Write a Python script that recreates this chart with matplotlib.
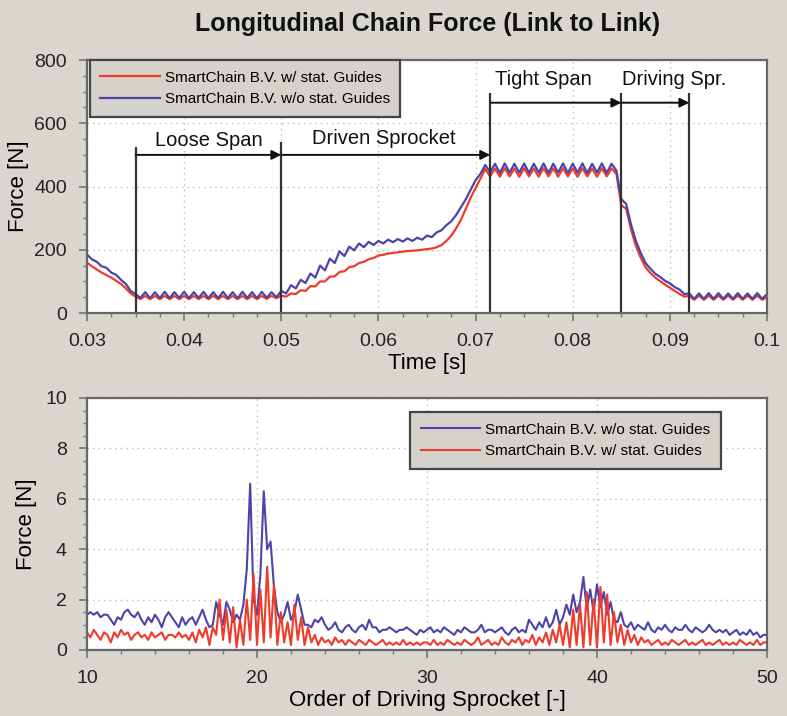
import numpy as np
import matplotlib
matplotlib.use("Agg")
import matplotlib.pyplot as plt
from matplotlib.ticker import MultipleLocator

# --- data ---
# top: chain force vs time, sampled every 0.5 ms from 0.030 s to 0.100 s
t_start, t_end, t_count = 0.030, 0.100, 141
force_wo = [
    185, 170, 162, 148, 143, 128, 121, 105, 92, 70,
    60, 48, 66, 47, 66, 47, 67, 47, 66, 48,
    67, 47, 66, 48, 67, 47, 66, 47, 67, 48,
    66, 47, 67, 48, 66, 47, 67, 48, 66, 50,
    70, 62, 88, 78, 105, 95, 125, 112, 150, 135,
    172, 158, 195, 180, 210, 198, 220, 208, 225, 215,
    228, 220, 232, 224, 234, 226, 236, 228, 238, 232,
    245, 240, 255, 262, 278, 290, 310, 335, 360, 390,
    420, 440, 468, 445, 472, 443, 473, 444, 472, 444,
    473, 443, 472, 444, 473, 443, 472, 444, 473, 443,
    472, 444, 473, 443, 472, 444, 473, 443, 472, 450,
    360, 345, 280, 228, 190, 158, 140, 124, 114, 102,
    94, 82, 74, 60, 62, 45, 62, 45, 63, 45,
    63, 45, 62, 45, 63, 45, 62, 45, 63, 45,
    60,
]
force_w = [
    160, 148, 138, 128, 120, 112, 102, 92, 78, 62,
    52, 44, 54, 44, 54, 44, 54, 44, 54, 44,
    54, 44, 54, 44, 54, 44, 54, 44, 54, 44,
    54, 44, 54, 44, 54, 44, 54, 45, 54, 47,
    55, 52, 62, 60, 72, 70, 85, 84, 100, 100,
    115, 116, 130, 132, 145, 148, 158, 162, 170, 174,
    182, 184, 188, 190, 192, 194, 196, 197, 198, 200,
    202, 204, 208, 215, 228, 245, 268, 295, 330, 365,
    395, 425, 455, 432, 457, 431, 458, 432, 457, 431,
    458, 432, 457, 431, 458, 432, 457, 431, 458, 432,
    457, 431, 458, 432, 457, 431, 458, 432, 457, 440,
    340, 330, 265, 212, 175, 145, 126, 112, 101, 90,
    80, 70, 60, 52, 54, 42, 55, 42, 55, 42,
    55, 42, 55, 42, 55, 42, 55, 42, 55, 42,
    50,
]

# span markers (time, top of line) and span labels
span_t = [0.035, 0.050, 0.0715, 0.085, 0.092]
span_top = [525, 540, 695, 695, 695]
arrows = [(0.035, 0.050, 500), (0.050, 0.0715, 500),
          (0.0715, 0.085, 665), (0.085, 0.092, 665)]
span_names = ["Loose Span", "Driven Sprocket", "Tight Span", "Driving Spr."]
name_pos = [(0.0425, 545), (0.0606, 552), (0.0770, 738), (0.0904, 738)]

# bottom: spectrum vs order of driving sprocket, step 0.2 from 10 to 50
o_start, o_end, o_count = 10, 50, 201
spec_wo = [
    1.4, 1.5, 1.4, 1.5, 1.3, 1.4, 1.4, 1.2, 1.0, 1.3,
    1.2, 1.5, 1.6, 1.4, 1.3, 1.5, 1.2, 1.0, 1.3, 1.1,
    1.4, 1.2, 0.9, 1.3, 1.5, 1.3, 1.1, 0.9, 1.3, 1.0,
    1.2, 1.3, 1.0, 1.3, 1.6, 1.2, 0.9, 1.0, 1.9, 1.4,
    1.0, 1.9, 1.6, 1.1, 1.4, 1.2, 1.8, 3.2, 6.6, 2.0,
    1.4, 3.0, 6.3, 4.0, 4.3, 2.5, 1.5, 1.1, 1.4, 1.9,
    1.2, 1.5, 2.2, 1.6, 1.0, 1.0, 0.9, 1.2, 1.1, 1.3,
    1.0, 0.8, 0.9, 1.1, 0.8, 0.7, 0.9, 1.0, 0.8, 0.7,
    0.9, 1.0, 0.8, 1.2, 0.9, 0.9, 0.7, 0.8, 0.8, 0.9,
    0.8, 0.7, 0.8, 0.8, 0.9, 0.8, 0.7, 0.6, 0.8, 0.7,
    0.8, 0.9, 0.7, 0.8, 0.7, 0.9, 0.8, 0.7, 0.6, 0.8,
    0.7, 0.9, 0.8, 0.7, 0.7, 0.8, 1.0, 0.7, 0.8, 0.8,
    0.7, 0.8, 0.9, 0.7, 0.6, 0.8, 0.9, 0.7, 0.8, 0.7,
    1.2, 1.0, 0.8, 1.1, 0.9, 1.3, 0.9, 1.1, 1.6, 1.0,
    1.3, 1.8, 1.4, 2.2, 1.5, 1.9, 2.9, 1.6, 2.4, 1.5,
    2.6, 1.7, 2.3, 1.4, 1.9, 1.2, 1.1, 1.5, 1.0, 0.9,
    1.1, 0.8, 1.0, 0.9, 0.8, 1.1, 0.8, 0.7, 0.9, 0.8,
    1.0, 0.8, 0.7, 0.9, 0.8, 0.8, 1.0, 0.8, 0.7, 0.9,
    0.8, 0.7, 0.8, 1.0, 0.8, 0.7, 0.8, 0.7, 0.8, 0.6,
    0.7, 0.8, 0.6, 0.7, 0.6, 0.8, 0.6, 0.7, 0.5, 0.6,
    0.6,
]
spec_w = [
    0.7, 0.5, 0.8, 0.6, 0.4, 0.7, 0.6, 0.3, 0.7, 0.5,
    0.8, 0.6, 0.7, 0.4, 0.6, 0.7, 0.5, 0.6, 0.4, 0.7,
    0.5, 0.6, 0.7, 0.4, 0.6, 0.6, 0.5, 0.7, 0.5, 0.6,
    0.4, 0.7, 0.3, 0.8, 0.5, 0.9, 0.2, 0.9, 0.6, 2.0,
    0.4, 1.6, 0.3, 1.7, 0.1, 1.2, 0.2, 2.0, 0.4, 3.0,
    0.2, 2.4, 0.3, 3.3, 0.5, 2.6, 0.2, 1.5, 0.3, 1.1,
    0.2, 1.8, 0.4, 1.3, 0.2, 0.9, 0.3, 0.6, 0.2, 0.5,
    0.3, 0.4, 0.2, 0.5, 0.3, 0.4, 0.2, 0.4, 0.3, 0.2,
    0.4, 0.3, 0.2, 0.4, 0.3, 0.2, 0.3, 0.4, 0.2, 0.3,
    0.2, 0.3, 0.2, 0.4, 0.2, 0.3, 0.2, 0.3, 0.2, 0.3,
    0.3, 0.2, 0.4, 0.2, 0.3, 0.2, 0.4, 0.3, 0.2, 0.3,
    0.2, 0.4, 0.3, 0.2, 0.3, 0.5, 0.2, 0.3, 0.4, 0.2,
    0.3, 0.2, 0.5, 0.3, 0.2, 0.4, 0.3, 0.5, 0.2, 0.4,
    0.3, 0.6, 0.2, 0.5, 0.3, 0.7, 0.2, 0.8, 0.3, 1.0,
    0.2, 1.1, 0.1, 1.6, 0.2, 1.8, 0.1, 2.3, 0.2, 2.0,
    0.1, 2.5, 0.3, 2.2, 0.2, 1.5, 0.3, 1.0, 0.2, 0.8,
    0.3, 0.6, 0.2, 0.5, 0.3, 0.4, 0.2, 0.3, 0.4, 0.2,
    0.3, 0.2, 0.4, 0.3, 0.2, 0.3, 0.4, 0.2, 0.3, 0.2,
    0.3, 0.4, 0.2, 0.3, 0.2, 0.3, 0.4, 0.2, 0.3, 0.2,
    0.3, 0.2, 0.4, 0.3, 0.2, 0.3, 0.2, 0.4, 0.2, 0.3,
    0.3,
]

label_w = "SmartChain B.V. w/ stat. Guides"
label_wo = "SmartChain B.V. w/o stat. Guides"

# --- style ---
BG = "#d8d6cf"
RED = "#ee3b2c"
BLUE = "#4c44a6"
plt.rcParams["font.family"] = ["Liberation Sans", "DejaVu Sans"]
plt.rcParams["font.size"] = 14

time = np.linspace(t_start, t_end, t_count)
order = np.linspace(o_start, o_end, o_count)

fig = plt.figure(figsize=(7.87, 7.16), dpi=100, facecolor=BG)
ax1 = fig.add_axes([0.1105, 0.5628, 0.8641, 0.3534])
ax2 = fig.add_axes([0.1105, 0.0922, 0.8641, 0.3520])

fig.text(0.543, 0.967, "Longitudinal Chain Force (Link to Link)",
         ha="center", va="center", fontsize=18, fontweight="bold", color="#111")


def style_axes(ax):
    for s in ax.spines.values():
        s.set_color("#666666")
        s.set_linewidth(1.6)
    ax.tick_params(which="both", direction="out", color="#777777", labelcolor="#222222")
    ax.tick_params(which="major", length=5.5, width=1.2, labelsize=14, pad=9)
    ax.tick_params(which="minor", length=3, width=1.0)
    ax.grid(True, which="major", linestyle=(0, (1, 3)), color="#bbbbbb", linewidth=1.0)
    ax.set_axisbelow(True)


def add_legend(ax, anchor):
    leg = ax.legend(loc="upper left", bbox_to_anchor=anchor, borderaxespad=0,
                    fontsize=11, handlelength=3.9, handletextpad=0.3, borderpad=0.7,
                    labelspacing=0.5, fancybox=False, framealpha=1,
                    facecolor="#d4d2cb", edgecolor="#444444")
    leg.get_frame().set_linewidth(1.6)
    return leg


# top panel
ax1.plot(time, force_w, color=RED, lw=1.6, label=label_w)
ax1.plot(time, force_wo, color=BLUE, lw=1.6, label=label_wo)
ax1.vlines(span_t, 0, span_top, color="#333333", lw=1.6)
for x0, x1, y in arrows:
    ax1.annotate("", xy=(x1, y), xytext=(x0, y),
                 arrowprops=dict(arrowstyle="-|>", color="#111111", lw=1.4,
                                 mutation_scale=14, shrinkA=0, shrinkB=0))
for name, (x, y) in zip(span_names, name_pos):
    ax1.text(x, y, name, ha="center", va="center", fontsize=14.5, color="#111")

ax1.set_xlim(0.03, 0.1)
ax1.set_ylim(0, 800)
ax1.set_xticks([0.03, 0.04, 0.05, 0.06, 0.07, 0.08, 0.09, 0.1])
ax1.set_xticklabels(["0.03", "0.04", "0.05", "0.06", "0.07", "0.08", "0.09", "0.1"])
ax1.set_yticks([0, 200, 400, 600, 800])
ax1.xaxis.set_minor_locator(MultipleLocator(0.0025))
ax1.yaxis.set_minor_locator(MultipleLocator(50))
ax1.set_xlabel("Time [s]", fontsize=16)
ax1.set_ylabel("Force [N]", fontsize=16)
ax1.xaxis.set_label_coords(0.5, -0.158)
ax1.yaxis.set_label_coords(-0.085, 0.5)
style_axes(ax1)
add_legend(ax1, (0.004, 1.0))

# bottom panel
ax2.plot(order, spec_wo, color=BLUE, lw=1.5, label=label_wo)
ax2.plot(order, spec_w, color=RED, lw=1.5, label=label_w)
ax2.set_xlim(10, 50)
ax2.set_ylim(0, 10)
ax2.set_xticks([10, 20, 30, 40, 50])
ax2.set_yticks([0, 2, 4, 6, 8, 10])
ax2.xaxis.set_minor_locator(MultipleLocator(2))
ax2.yaxis.set_minor_locator(MultipleLocator(0.5))
ax2.set_xlabel("Order of Driving Sprocket [-]", fontsize=16)
ax2.set_ylabel("Force [N]", fontsize=16)
ax2.xaxis.set_label_coords(0.5, -0.158)
ax2.yaxis.set_label_coords(-0.074, 0.5)
style_axes(ax2)
add_legend(ax2, (0.475, 0.944))

fig.savefig("out.png", dpi=100, facecolor=BG)
